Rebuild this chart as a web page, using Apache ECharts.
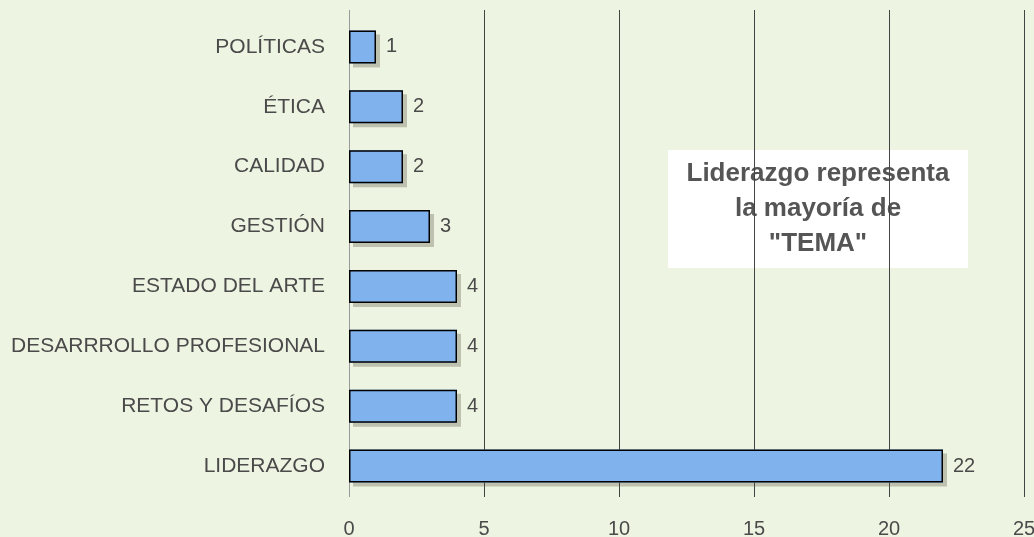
<!DOCTYPE html>
<html>
<head>
<meta charset="utf-8">
<script src="https://cdn.jsdelivr.net/npm/echarts@6/dist/echarts.min.js"></script>
<style>
html,body{margin:0;padding:0;background:#eef4e2;overflow:hidden;}
#c{width:1034px;height:537px;}
</style>
</head>
<body>
<div id="c"></div>
<script>
const categories = ['POLÍTICAS','ÉTICA','CALIDAD','GESTIÓN','ESTADO DEL ARTE','DESARRROLLO PROFESIONAL','RETOS Y DESAFÍOS','LIDERAZGO'];
const values = [1,2,2,3,4,4,4,22];
const xTicks = [0,5,10,15,20,25];
const noteLines = ['Liderazgo representa','la mayoría de','"TEMA"'];

const font = '"Liberation Sans", Arial, Helvetica, sans-serif';
const chart = echarts.init(document.getElementById('c'));
const R = 10;
chart.setOption({
  backgroundColor: '#eef4e2',
  animation: false,
  grid: [
    {left: 349, right: R, top: 10, bottom: 40, outerBoundsMode: 'none', containLabel: false},
    {left: 349, right: R, top: 17, bottom: 41, outerBoundsMode: 'none', containLabel: false}
  ],
  xAxis: [
    {gridIndex: 0, type: 'value', min: xTicks[0], max: xTicks[xTicks.length-1], interval: 5,
     axisLine: {show: false}, axisTick: {show: false},
     axisLabel: {margin: 22, fontSize: 20, color: '#4a4a4a', fontFamily: font},
     splitLine: {show: true, lineStyle: {color: ['#9a9a9a','#444','#444','#444','#444','#444'], width: 1}}},
    {gridIndex: 1, type: 'value', min: xTicks[0], max: xTicks[xTicks.length-1], interval: 5, show: false}
  ],
  yAxis: [
    {gridIndex: 0, type: 'category', data: categories, show: false},
    {gridIndex: 1, type: 'category', data: categories, inverse: true,
     axisLine: {show: false}, axisTick: {show: false},
     axisLabel: {margin: 24, fontSize: 21, color: '#4a4a4a', fontFamily: font},
     splitLine: {show: false}}
  ],
  series: [{
    type: 'bar', xAxisIndex: 1, yAxisIndex: 1, data: values, barWidth: 33, barGap: '-100%',
    itemStyle: {color: '#80b3ee', borderWidth: 0,
      shadowColor: 'rgba(90,90,70,0.33)', shadowOffsetX: 4, shadowOffsetY: 4, shadowBlur: 0},
    silent: true
  }, {
    type: 'bar', xAxisIndex: 1, yAxisIndex: 1, data: values, barWidth: 33, barGap: '-100%',
    itemStyle: {color: '#80b3ee', borderColor: '#000', borderWidth: 1.5},
    label: {show: true, position: 'right', distance: 10, fontSize: 20, color: '#4a4a4a', fontFamily: font}
  }],
  graphic: [{
    type: 'group', left: 668, top: 150,
    children: [
      {type: 'rect', shape: {x: 0, y: 0, width: 300, height: 118}, style: {fill: '#ffffff'}},
      {type: 'text', x: 150, y: 59, style: {text: noteLines.join('\n'), align: 'center', verticalAlign: 'middle',
        font: 'bold 26px ' + font, lineHeight: 35, fill: '#555555'}}
    ]
  }]
});
</script>
</body>
</html>
